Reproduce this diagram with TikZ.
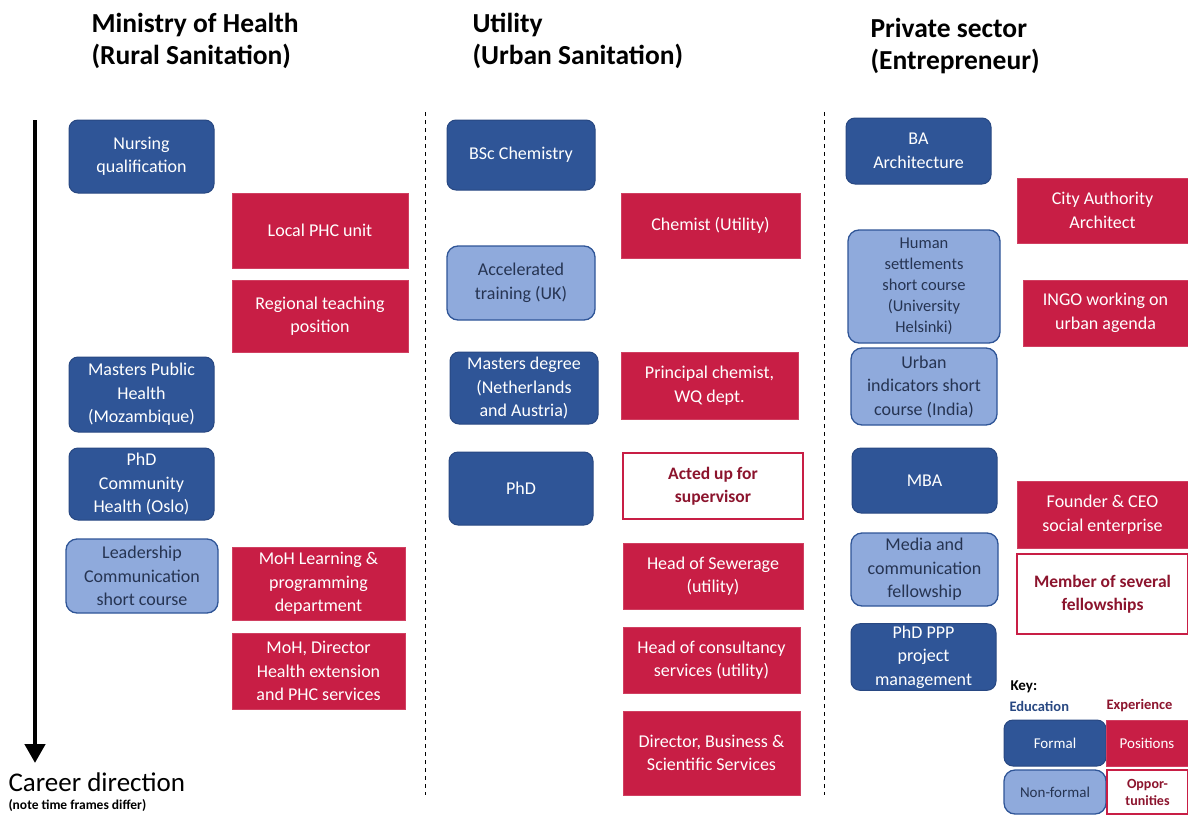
\documentclass[tikz,border=0pt]{standalone}
\usepackage{fontspec}
\setmainfont{Carlito}
\usetikzlibrary{arrows.meta}
\definecolor{fblue}{RGB}{47,85,151}
\definecolor{fbluedk}{RGB}{40,72,130}
\definecolor{nfblue}{RGB}{143,170,220}
\definecolor{nftext}{RGB}{38,52,82}
\definecolor{pred}{RGB}{200,30,69}
\definecolor{otext}{RGB}{140,20,45}
\tikzset{
  base/.style={inner sep=2pt, align=center, font=\fontsize{18}{23.5}\selectfont},
  formal/.style={base, rounded corners=9pt, fill=fblue, draw=fbluedk, line width=1pt, text=white},
  nonformal/.style={base, rounded corners=11pt, fill=nfblue, draw=fblue, line width=1.3pt, text=nftext},
  position/.style={base, fill=pred, draw=pred!85!white, line width=0.8pt, text=white},
  opport/.style={base, fill=white, draw=pred, line width=1.2pt, text=otext, font=\fontsize{17.5}{23.5}\selectfont\bfseries},
  header/.style={anchor=west, align=left, font=\fontsize{27.5}{32}\selectfont\bfseries},
  divider/.style={dashed, line width=1pt, dash pattern=on 4pt off 4pt}
}
\newcommand{\bx}[7]{\node[#1, minimum width={(#5-#3)*1pt}, minimum height={(#6-#4)*1pt}] (#2) at ({(#3+#5)/2},{-(#4+#6)/2}) {#7};}
\begin{document}
\begin{tikzpicture}[x=1pt,y=1pt]
\useasboundingbox (0,0) rectangle (1188,-814);
% headers
\node[header] (h1) at (88,-41) {Ministry of Health\\(Rural Sanitation)};
\node[header] (h2) at (469,-41) {Utility\\(Urban Sanitation)};
\node[header] (h3) at (867,-46) {Private sector\\(Entrepreneur)};
% dividers
\coordinate (d1t) at (425,-112); \coordinate (d1b) at (425,-795);
\coordinate (d2t) at (824,-112); \coordinate (d2b) at (824,-795);
\draw[divider] (d1t) -- (d1b);
\draw[divider] (d2t) -- (d2b);
% career arrow
\coordinate (at) at (35,-120); \coordinate (ab) at (35,-763);
\draw[line width=4.5pt, -{Triangle[width=20pt,length=19pt]}] (at) -- (ab);
\node[anchor=west, font=\fontsize{27}{30}\selectfont] (cd) at (5,-782) {Career direction};
\node[anchor=west, font=\fontsize{13.5}{15}\selectfont\bfseries] (cn) at (5,-805) {(note time frames differ)};
% column 1
\bx{formal}{n1}{69}{120}{214}{193}{Nursing\\qualification}
\bx{position}{p1}{232}{193}{408}{268}{Local PHC unit}
\bx{position}{p2}{232}{280}{408}{352}{Regional teaching\\position}
\bx{formal}{n2}{69}{357}{214}{432}{Masters Public\\Health\\(Mozambique)}
\bx{formal}{n3}{69}{448}{214}{520}{PhD\\Community\\Health (Oslo)}
\bx{nonformal}{n4}{66}{539}{218}{613}{Leadership\\Communication\\short course}
\bx{position}{p3}{232}{547}{405}{620}{MoH Learning \&\\programming\\department}
\bx{position}{p4}{232}{633}{405}{709}{MoH, Director\\Health extension\\and PHC services}
% column 2
\bx{formal}{u1}{447}{120}{595}{190}{BSc Chemistry}
\bx{position}{q1}{621}{193}{800}{258}{Chemist (Utility)}
\bx{nonformal}{u2}{447}{246}{595}{320}{Accelerated\\training (UK)}
\bx{formal}{u3}{450}{352}{598}{424}{Masters degree\\(Netherlands\\and Austria)}
\bx{position}{q2}{621}{352}{798}{419}{Principal chemist,\\WQ dept.}
\bx{formal}{u4}{449}{452}{593}{525}{PhD}
\bx{opport}{q3}{623}{453}{803}{519}{Acted up for\\supervisor}
\bx{position}{q4}{623}{543}{803}{609}{Head of Sewerage\\(utility)}
\bx{position}{q5}{623}{627}{800}{693}{Head of consultancy\\services (utility)}
\bx{position}{q6}{623}{711}{800}{795}{Director, Business \&\\Scientific Services}
% column 3
\bx{formal}{e1}{846}{118}{991}{184}{BA\\Architecture}
\bx{position}{r1}{1017}{178}{1188}{243}{City Authority\\Architect}
\bx{nonformal, font=\fontsize{16.5}{21}\selectfont}{e2}{848}{230}{1000}{343}{Human\\settlements\\short course\\(University\\Helsinki)}
\bx{position}{r2}{1023}{280}{1188}{346}{INGO working on\\urban agenda}
\bx{nonformal}{e3}{851}{348}{997}{425}{Urban\\indicators short\\course (India)}
\bx{formal}{e4}{852}{448}{997}{513}{MBA}
\bx{position}{r3}{1017}{481}{1188}{548}{Founder \& CEO\\social enterprise}
\bx{nonformal}{e5}{851}{533}{998}{606}{Media and\\communication\\fellowship}
\bx{opport}{r4}{1017}{554}{1188}{634}{Member of several\\fellowships}
\bx{formal}{e6}{851}{624}{996}{690}{PhD PPP\\project\\management}
% key
\node[anchor=west, font=\fontsize{15}{17}\selectfont\bfseries] (key) at (1007,-687) {Key:};
\node[anchor=west, text=fbluedk, font=\fontsize{14.5}{17}\selectfont\bfseries] (ked) at (1006,-706) {Education};
\node[anchor=west, text=otext, font=\fontsize{14.5}{17}\selectfont\bfseries] (kex) at (1103,-706) {Experience};
\bx{formal, font=\fontsize{15}{18}\selectfont}{k1}{1004}{720}{1106}{766}{Formal}
\bx{position, font=\fontsize{15}{18}\selectfont}{k2}{1106}{720}{1188}{766}{Positions}
\bx{nonformal, font=\fontsize{15}{18}\selectfont}{k3}{1004}{770}{1106}{814}{Non-formal}
\bx{opport, font=\fontsize{14}{17}\selectfont\bfseries}{k4}{1107}{770}{1188}{814}{Oppor-\\tunities}
\end{tikzpicture}
\end{document}
